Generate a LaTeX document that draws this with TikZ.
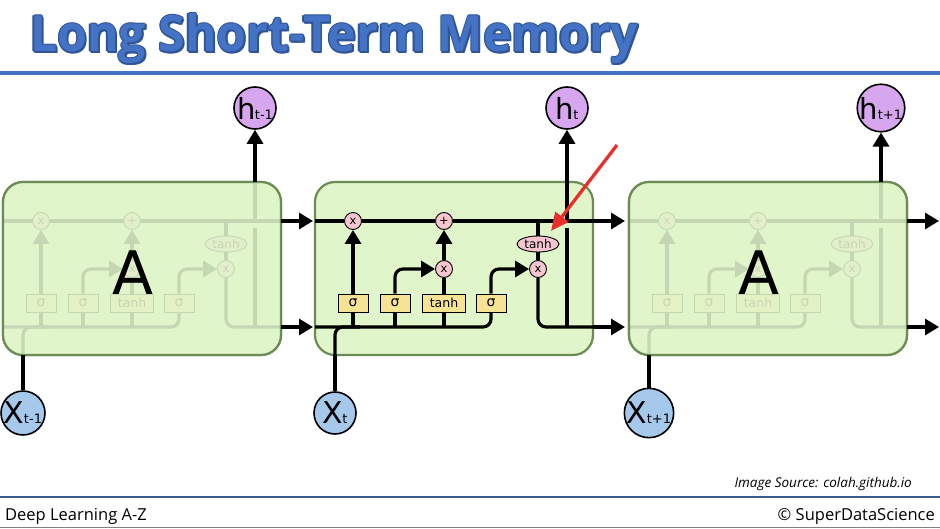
\documentclass[tikz,border=0pt]{standalone}
\usepackage{fontspec}
\setmainfont{Open Sans}
\newfontfamily\dejavu{DejaVu Sans}
\usetikzlibrary{arrows.meta,shapes.geometric,calc}
\definecolor{titleblue}{HTML}{4472C4}
\definecolor{titledark}{HTML}{2F5597}
\definecolor{cellgreen}{HTML}{E1F5CB}
\definecolor{cellborder}{HTML}{6B8C52}
\definecolor{gateyellow}{HTML}{F6E394}
\definecolor{oppink}{HTML}{F5C6D0}
\definecolor{hpurple}{HTML}{D6A6EE}
\definecolor{xblue}{HTML}{A5C8EB}
\definecolor{arrowred}{HTML}{E8302A}
\definecolor{footrule}{HTML}{3F5B8C}
\tikzset{
  flow/.style={line width=3.2pt, draw=black},
  tip/.style={-{Triangle[length=14pt,width=16pt]}},
  cellbox/.style={rectangle, rounded corners=20pt, minimum width=278pt, minimum height=173pt, inner sep=0pt},
  op/.style={circle, draw, line width=0.9pt, fill=oppink, minimum size=17pt, inner sep=0pt, font=\dejavu\fontsize{11.5}{11.5}\selectfont},
  gate/.style={rectangle, draw, line width=0.9pt, fill=gateyellow, minimum width=30pt, minimum height=18pt, inner sep=0pt, font=\dejavu\fontsize{14}{14}\selectfont},
  tanhgate/.style={gate, minimum width=43pt, font=\dejavu\fontsize{12.5}{12.5}\selectfont},
  tanhop/.style={op, ellipse, minimum width=42pt, minimum height=16pt, font=\dejavu\fontsize{12}{12}\selectfont},
  hnode/.style={circle, draw, line width=1.6pt, fill=hpurple, minimum size=42pt, inner sep=0pt},
  xnode/.style={circle, draw, line width=1.6pt, fill=xblue, minimum size=42pt, inner sep=0pt},
  bigA/.style={font=\dejavu\fontsize{60}{60}\selectfont, inner sep=0pt},
}
\newcommand\hlabel[1]{\dejavu\fontsize{29}{29}\selectfont h\kern-0.5pt\fontsize{13}{13}\selectfont #1}
\newcommand\xlabel[1]{\dejavu\fontsize{30}{30}\selectfont X\kern-0.5pt\fontsize{13}{13}\selectfont #1}
\newcommand\titletext{\resizebox{608pt}{38pt}{\bfseries Long Short-Term Memory}}
% structure of one cell, local coordinates
\newcommand\lstmstruct[1]{%
  \node[cellbox, fill=cellgreen, draw=cellborder, line width=2.2pt] (#1box) at (139,268.5) {};
  \coordinate (#1cl) at (0,221);
  \coordinate (#1cr) at (278,221);
  \coordinate (#1hl) at (0,327);
  \coordinate (#1hr) at (278,327);
  \coordinate (#1xin) at (20,355);
  \coordinate (#1xj) at (45,327);
  \coordinate (#1vb) at (252,327);
  \coordinate (#1vg) at (252,228);
  \coordinate (#1vt) at (252,221);
  \coordinate (#1top) at (252,182);
  \coordinate (#1co) at (310,221);
  \coordinate (#1ho) at (310,327);
  \node[op] (#1fx) at (38,221) {x};
  \node[op] (#1pl) at (129,221) {+};
  \node[gate] (#1sa) at (38,303) {σ};
  \node[gate] (#1sb) at (80,303) {σ};
  \node[tanhgate] (#1th) at (129,303) {tanh};
  \node[gate] (#1sc) at (176,303) {σ};
  \node[op] (#1mx) at (129,269) {x};
  \node[op] (#1ox) at (223,269) {x};
  \node[tanhop] (#1te) at (223,244) {tanh};
  % cell state
  \draw[flow] (#1cl) -- (#1fx.west);
  \draw[flow] (#1fx.east) -- (#1pl.west);
  \draw[flow] (#1pl.east) -- (#1cr);
  % hidden line
  \draw[flow, rounded corners=8pt] (#1hl) -| (#1sc.south);
  \draw[flow, rounded corners=8pt] (#1xin) |- (#1xj);
  \draw[flow] (#1sa.south) -- (#1sa.south |- #1hl);
  \draw[flow] (#1sb.south) -- (#1sb.south |- #1hl);
  \draw[flow] (#1th.south) -- (#1th.south |- #1hl);
  % gates
  \draw[flow, tip] (#1sa.north) -- (#1fx.south);
  \draw[flow, tip, rounded corners=8pt] (#1sb.north) |- (#1mx.west);
  \draw[flow] (#1th.north) -- (#1mx.south);
  \draw[flow, tip] (#1mx.north) -- (#1pl.south);
  \draw[flow, tip, rounded corners=8pt] (#1sc.north) |- (#1ox.west);
  % output
  \draw[flow] (#1te.north |- #1cl) -- (#1te.north);
  \draw[flow] (#1te.south) -- (#1ox.north);
  \draw[flow, rounded corners=8pt] (#1ox.south) |- (#1hr);
  \draw[flow] (#1vb) -- (#1vg);
  \draw[flow] (#1vt) -- (#1top);
}
\newcommand\lstmfade[1]{%
  \node[cellbox, fill=cellgreen, fill opacity=0.88] (#1fade) at (139,268.5) {};
  \node[cellbox, draw=cellborder, line width=2.2pt] (#1edge) at (139,268.5) {};
  \node[bigA] (#1A) at (130,273) {A};
}
\begin{document}
\begin{tikzpicture}[x=1pt,y=-1pt]
\useasboundingbox[fill=white] (0,0) rectangle (940,529);
% title
\foreach \dx/\dy [count=\i] in {1.3/0,-1.3/0,0/1.3,0/-1.3,0.9/0.9,-0.9/0.9,0.9/-0.9,-0.9/-0.9,1.8/1.8} {
  \node[anchor=base west, inner sep=0pt, text=titledark] (tsh\i) at (30+\dx,52+\dy) {\titletext};
}
\node[anchor=base west, inner sep=0pt, text=titleblue] (title) at (30,52) {\titletext};
\coordinate (r1a) at (0,73);
\coordinate (r1b) at (940,73);
\draw[line width=3.2pt, titleblue] (r1a) -- (r1b);
% cells
\begin{scope}[xshift=3pt]
  \lstmstruct{L}
  \lstmfade{L}
\end{scope}
\begin{scope}[xshift=315pt]
  \lstmstruct{M}
\end{scope}
\begin{scope}[xshift=629pt]
  \lstmstruct{R}
  \lstmfade{R}
\end{scope}
% outputs and inputs
\node[hnode] (hL) at (255,108) {\hlabel{t-1}};
\node[hnode] (hM) at (567,108) {\hlabel{t}};
\node[hnode] (hR) at (881,108) {\hlabel{t+1}};
\node[xnode] (xL) at (23,413) {\xlabel{t-1}};
\node[xnode] (xM) at (335,413) {\xlabel{t}};
\node[xnode] (xR) at (649,413) {\xlabel{t+1}};
\foreach \c in {L,M,R} {
  \draw[flow, tip] (\c top) -- (h\c.south);
  \draw[flow, tip] (\c cr) -- (\c co);
  \draw[flow, tip] (\c hr) -- (\c ho);
  \draw[flow] (x\c.north) -- (\c xin);
}
% red arrow
\coordinate (rs) at (617,145);
\coordinate (re) at (551,231);
\draw[line width=3.3pt, arrowred, -{Triangle[length=18pt,width=16pt]}] (rs) -- (re);
% source and footer
\node[anchor=base east, inner sep=0pt, font=\itshape\fontsize{13.5}{13.5}\selectfont] (src) at (912,487) {Image Source: colah.github.io};
\coordinate (f1a) at (0,497);
\coordinate (f1b) at (940,497);
\draw[line width=1.8pt, footrule] (f1a) -- (f1b);
\coordinate (f2a) at (0,527.5);
\coordinate (f2b) at (940,527.5);
\draw[line width=1.5pt, gray] (f2a) -- (f2b);
\node[anchor=base west, inner sep=0pt, font=\fontsize{16.5}{16.5}\selectfont] (foot1) at (5,520) {Deep Learning A-Z};
\node[anchor=base east, inner sep=0pt, font=\fontsize{16.5}{16.5}\selectfont] (foot2) at (935,520) {© SuperDataScience};
\end{tikzpicture}
\end{document}
